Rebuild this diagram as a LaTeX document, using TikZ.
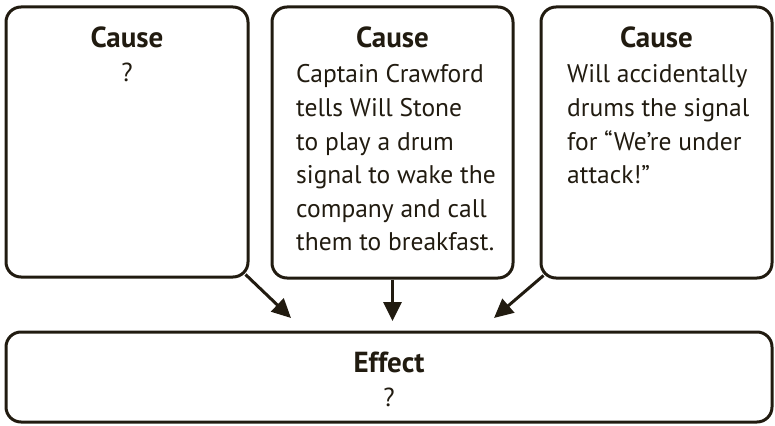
\documentclass[tikz,border=0pt]{standalone}
\usepackage{fontspec}
\setmainfont{PT Sans}
\usetikzlibrary{arrows.meta}
\definecolor{ink}{RGB}{33,27,16}
\newcommand{\bodylines}[1]{\begin{tabular}[t]{@{}l@{}}#1\end{tabular}}
\begin{document}
\begin{tikzpicture}[x=1pt,y=-1pt,
  box/.style={draw=ink, line width=3pt, rounded corners=15pt, inner sep=0pt},
  title/.style={font=\fontsize{29}{33.5}\selectfont\bfseries, text=ink, anchor=base, inner sep=0pt},
  body/.style={font=\fontsize{25.5}{33.5}\selectfont, text=ink, anchor=base west, inner sep=0pt},
  qmark/.style={font=\fontsize{26}{33.5}\selectfont, text=ink, anchor=base, inner sep=0pt},
  arr/.style={draw=ink, line width=3pt, -{Triangle[length=19pt,width=18pt]}}]
\useasboundingbox (0,0) rectangle (775,425);
\node[box, minimum width=242pt, minimum height=270pt] (c1) at (127,142) {};
\node[box, minimum width=241pt, minimum height=271pt] (c2) at (392.5,142.5) {};
\node[box, minimum width=231pt, minimum height=271pt] (c3) at (656.5,142.5) {};
\node[box, minimum width=766pt, minimum height=90pt] (ef) at (389,377) {};
\node[title] (t1) at (127,48) {Cause};
\node[qmark] (q1) at (127,82) {?};
\node[title] (t2) at (392.5,48) {Cause};
\node[body] (b2) at (296,83) {\bodylines{Captain Crawford\\tells Will Stone\\to play a drum\\signal to wake the\\company and call\\them to breakfast.}};
\node[title] (t3) at (656.5,48) {Cause};
\node[body] (b3) at (567,83) {\bodylines{Will accidentally\\drums the signal\\for “We’re under\\attack!”}};
\node[title] (te) at (389,372) {Effect};
\node[qmark] (qe) at (389,406) {?};
\coordinate (a1) at (291,318);
\coordinate (a2) at (392.5,321);
\coordinate (a3) at (494,318);
\draw[arr] ([xshift=-4pt,yshift=4pt]c1.south east) -- (a1);
\draw[arr] (c2.south) -- (a2);
\draw[arr] ([xshift=4pt,yshift=4pt]c3.south west) -- (a3);
\end{tikzpicture}
\end{document}
